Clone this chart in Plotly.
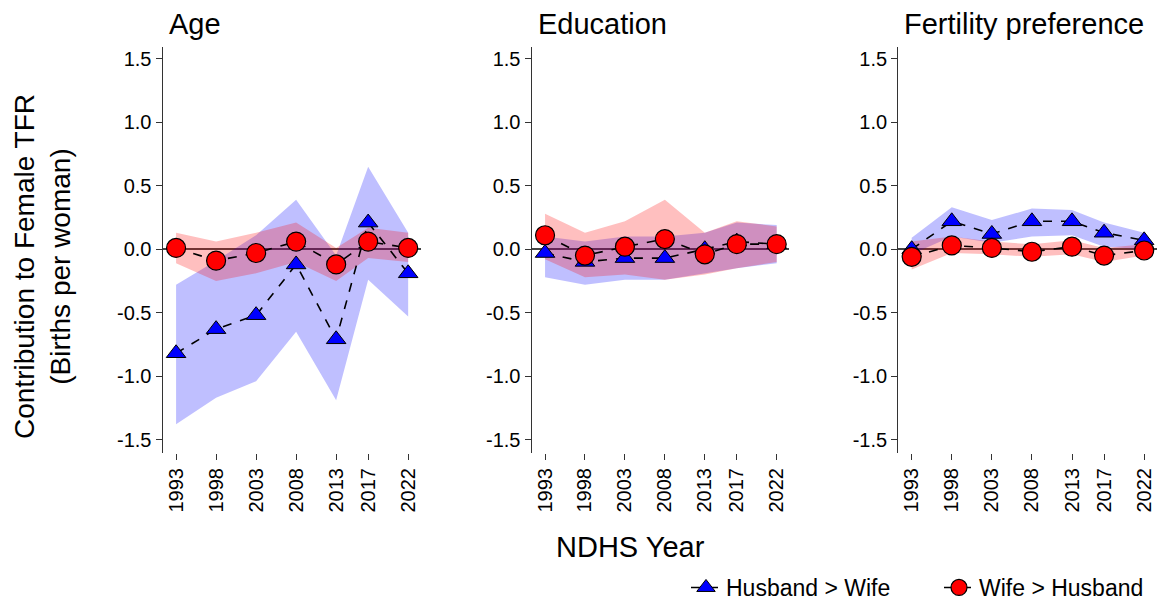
import plotly.graph_objects as go

years = [1993, 1998, 2003, 2008, 2013, 2017, 2022]
year_labels = ["1993", "1998", "2003", "2008", "2013", "2017", "2022"]
panel_titles = ["Age", "Education", "Fertility preference"]
series_names = ["Husband > Wife", "Wife > Husband"]

# Age panel
age_hw = [-0.82, -0.63, -0.52, -0.12, -0.71, 0.21, -0.19]
age_hw_lo = [-1.38, -1.17, -1.04, -0.65, -1.19, -0.24, -0.53]
age_hw_hi = [-0.28, -0.09, 0.11, 0.39, -0.05, 0.65, 0.13]
age_wh = [0.01, -0.09, -0.03, 0.06, -0.12, 0.06, 0.01]
age_wh_lo = [-0.11, -0.25, -0.19, -0.10, -0.25, -0.07, -0.10]
age_wh_hi = [0.13, 0.06, 0.13, 0.21, 0.01, 0.17, 0.13]

# Education panel
edu_hw = [-0.03, -0.10, -0.07, -0.07, 0.00, 0.06, 0.04]
edu_hw_lo = [-0.22, -0.28, -0.24, -0.24, -0.19, -0.15, -0.11]
edu_hw_hi = [0.10, 0.06, 0.10, 0.10, 0.13, 0.21, 0.19]
edu_wh = [0.11, -0.05, 0.02, 0.08, -0.04, 0.04, 0.04]
edu_wh_lo = [-0.08, -0.22, -0.20, -0.24, -0.20, -0.15, -0.10]
edu_wh_hi = [0.28, 0.13, 0.22, 0.39, 0.13, 0.22, 0.18]

# Fertility preference panel
fer_hw = [0.00, 0.22, 0.12, 0.22, 0.22, 0.13, 0.07]
fer_hw_lo = [-0.04, 0.10, 0.05, 0.10, 0.11, 0.02, 0.00]
fer_hw_hi = [0.09, 0.33, 0.23, 0.32, 0.31, 0.21, 0.13]
fer_wh = [-0.06, 0.03, 0.01, -0.02, 0.02, -0.05, -0.01]
fer_wh_lo = [-0.16, -0.03, -0.04, -0.06, -0.04, -0.10, -0.05]
fer_wh_hi = [0.06, 0.10, 0.06, 0.04, 0.07, 0.01, 0.04]

y_tickvals = [-1.5, -1.0, -0.5, 0.0, 0.5, 1.0, 1.5]
y_ticktext = ["-1.5", "-1.0", "-0.5", "0.0", "0.5", "1.0", "1.5"]

panels = [
    (age_hw, age_hw_lo, age_hw_hi, age_wh, age_wh_lo, age_wh_hi),
    (edu_hw, edu_hw_lo, edu_hw_hi, edu_wh, edu_wh_lo, edu_wh_hi),
    (fer_hw, fer_hw_lo, fer_hw_hi, fer_wh, fer_wh_lo, fer_wh_hi),
]

W, H = 1160, 609
FONT = "Arial, Liberation Sans, sans-serif"
AX = "#333333"

axis_px = [(162.7, 420.5), (531.7, 789.0), (898.3, 1156.5)]
y_top_px, y_bot_px = 46.7, 453.0

fig = go.Figure()
for i, (hw, hw_lo, hw_hi, wh, wh_lo, wh_hi) in enumerate(panels):
    xa = "x" if i == 0 else f"x{i+1}"
    ya = "y" if i == 0 else f"y{i+1}"
    fig.add_trace(go.Scatter(
        x=years + years[::-1], y=hw_hi + hw_lo[::-1], fill="toself",
        fillcolor="rgba(0,0,255,0.25)", line=dict(width=0), mode="lines",
        hoverinfo="skip", showlegend=False, xaxis=xa, yaxis=ya))
    fig.add_trace(go.Scatter(
        x=years + years[::-1], y=wh_hi + wh_lo[::-1], fill="toself",
        fillcolor="rgba(255,0,0,0.25)", line=dict(width=0), mode="lines",
        hoverinfo="skip", showlegend=False, xaxis=xa, yaxis=ya))
    fig.add_trace(go.Scatter(
        x=years, y=hw, mode="lines+markers", name=series_names[0],
        line=dict(color="black", dash="dash", width=1.6),
        marker=dict(symbol="triangle-up", size=17, color="#0000FF",
                    line=dict(color="black", width=1)),
        showlegend=(i == 0), legend="legend", xaxis=xa, yaxis=ya))
    fig.add_trace(go.Scatter(
        x=years, y=wh, mode="lines+markers", name=series_names[1],
        line=dict(color="black", dash="dash", width=1.6),
        marker=dict(symbol="circle", size=19, color="#FF0000",
                    line=dict(color="black", width=1.2)),
        showlegend=(i == 0), legend="legend2", xaxis=xa, yaxis=ya))

leg_common = dict(orientation="h", xanchor="left", y=0.0,
                  yanchor="bottom", font=dict(size=23, family=FONT),
                  bgcolor="rgba(0,0,0,0)", itemwidth=30)

layout = dict(
    width=W, height=H,
    template="none",
    paper_bgcolor="white", plot_bgcolor="white",
    margin=dict(l=0, r=0, t=0, b=0),
    font=dict(family=FONT, color="black", size=20),
    showlegend=True,
    legend=dict(x=686 / W, **leg_common),
    legend2=dict(x=939 / W, **leg_common),
)

annotations = []
for i, (x0, x1) in enumerate(axis_px):
    sfx = "" if i == 0 else str(i + 1)
    layout[f"xaxis{sfx}"] = dict(
        domain=[x0 / W, x1 / W], anchor=f"y{sfx}",
        range=[1991.33, 2023.54], tickmode="array", tickvals=years,
        ticktext=year_labels, tickangle=-90, ticks="outside", ticklen=6,
        tickwidth=1.3, tickcolor=AX, showline=False, showgrid=False,
        zeroline=False, automargin=False, tickfont=dict(size=20, family=FONT))
    layout[f"yaxis{sfx}"] = dict(
        domain=[1 - y_bot_px / H, 1 - y_top_px / H], anchor=f"x{sfx}",
        range=[-1.606, 1.596], tickmode="array", tickvals=y_tickvals,
        ticktext=y_ticktext, ticks="outside", ticklen=6, tickwidth=1.3,
        tickcolor=AX, showline=True, linecolor=AX, linewidth=1.4,
        showgrid=False, zeroline=True, zerolinecolor="#444444",
        zerolinewidth=1.5, automargin=False,
        tickfont=dict(size=20, family=FONT))
    annotations.append(dict(
        text=panel_titles[i], xref="paper", yref="paper",
        x=(x0 + 4) / W, y=1 - 24 / H, xanchor="left", yanchor="middle",
        showarrow=False, font=dict(size=29, family=FONT)))

annotations.append(dict(
    text="NDHS Year", xref="paper", yref="paper", x=630.5 / W, y=1 - 547 / H,
    xanchor="center", yanchor="middle", showarrow=False,
    font=dict(size=29, family=FONT)))
annotations.append(dict(
    text="Contribution to Female TFR<br>(Births per woman)", xref="paper",
    yref="paper", x=42 / W, y=1 - 267 / H, xanchor="center",
    yanchor="middle", textangle=-90, showarrow=False,
    font=dict(size=28, family=FONT)))
layout["annotations"] = annotations

fig.update_layout(**layout)
fig.write_html("out.html", config={"displayModeBar": False},
               post_script="document.body.style.margin='0';document.body.style.overflow='hidden';")
